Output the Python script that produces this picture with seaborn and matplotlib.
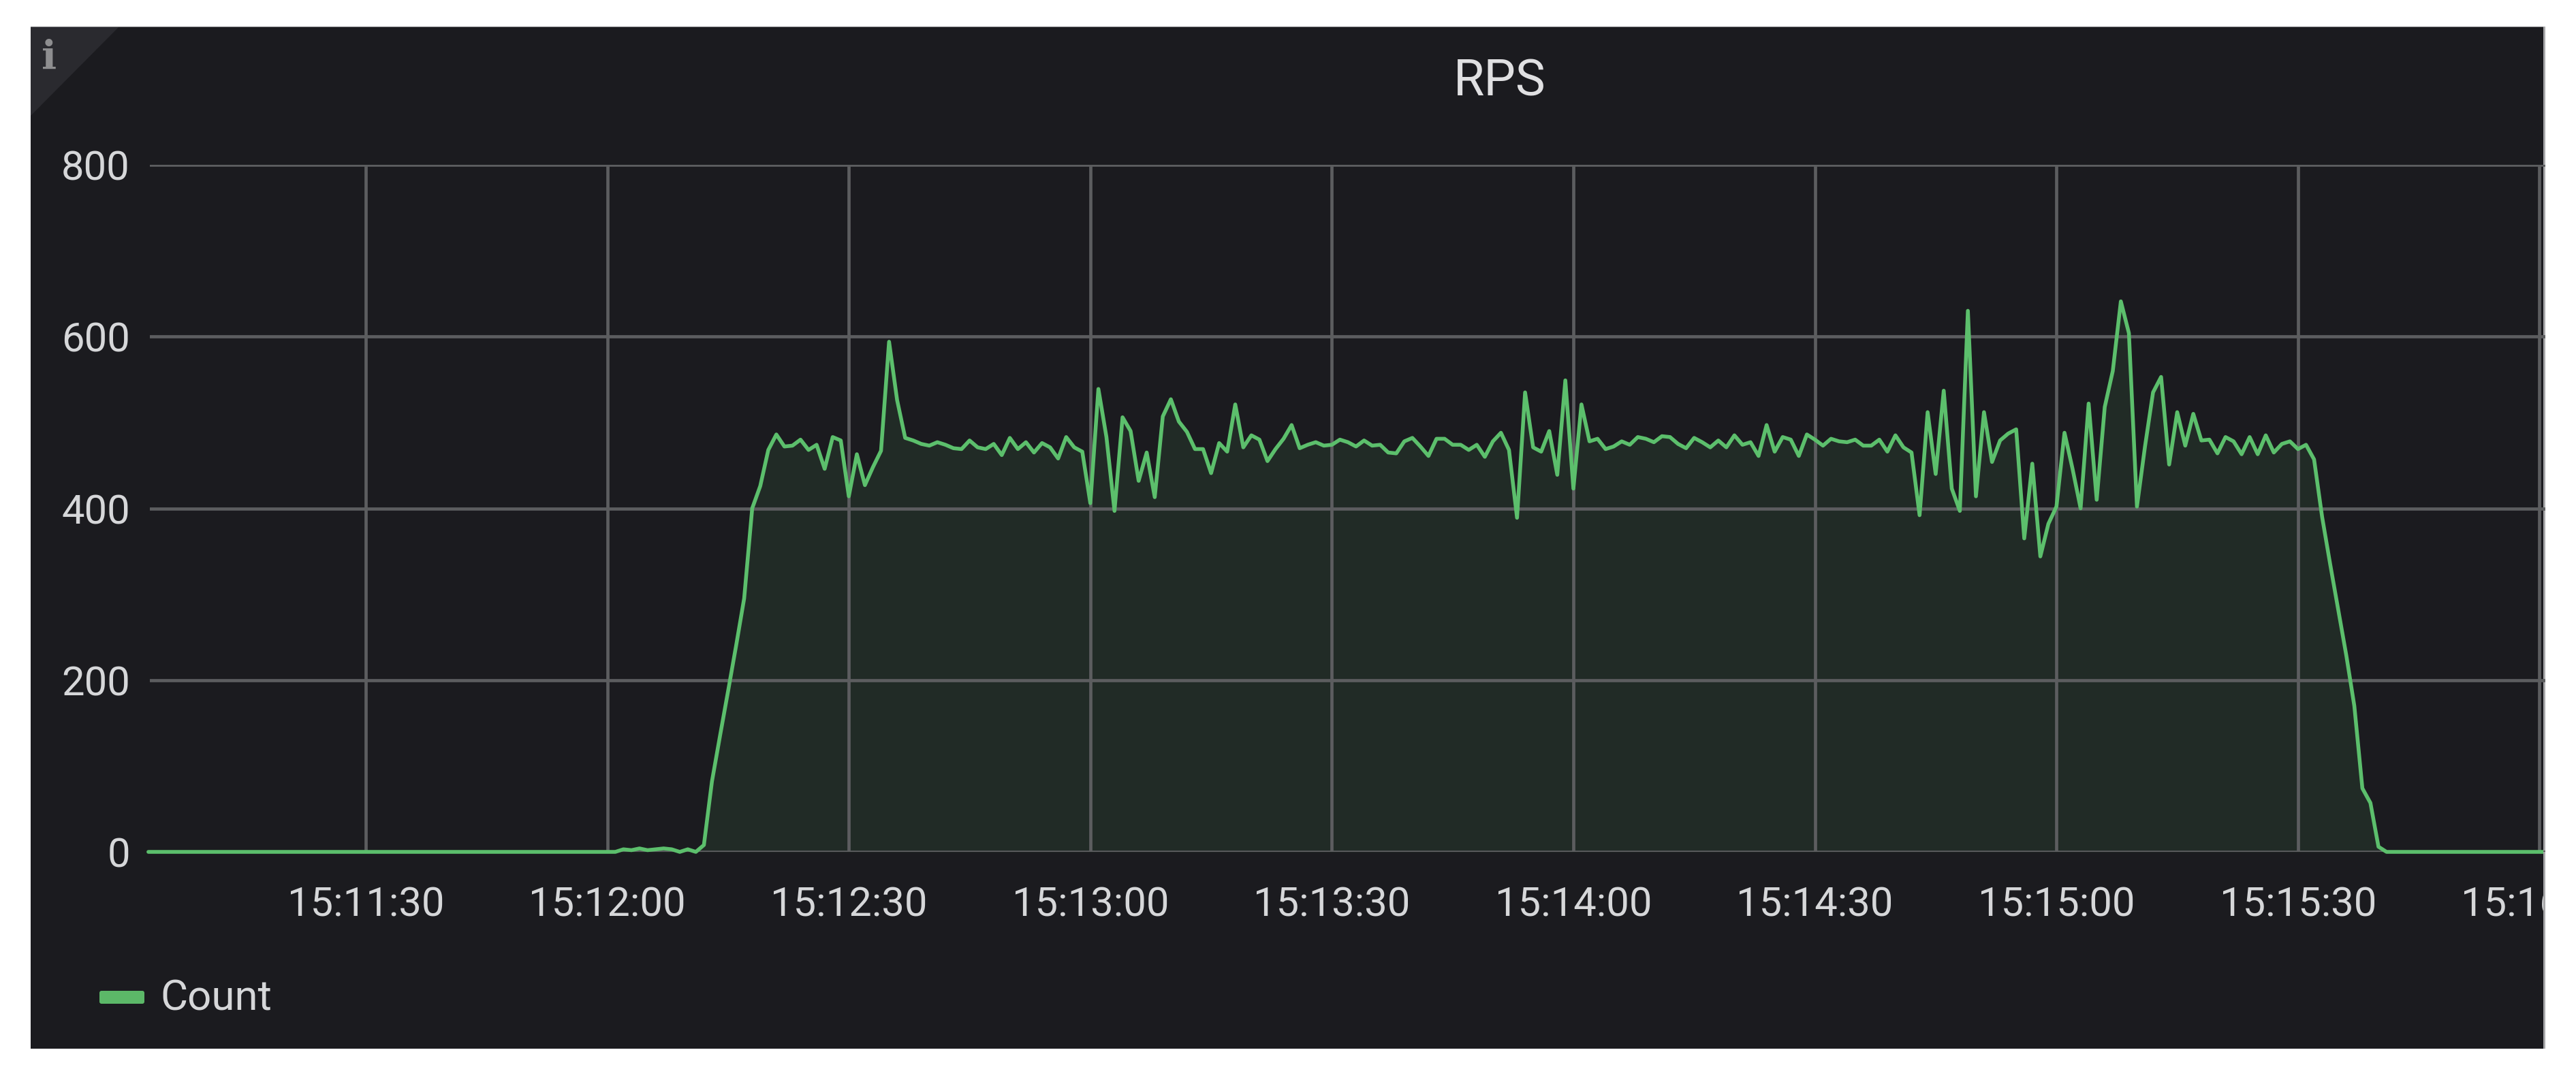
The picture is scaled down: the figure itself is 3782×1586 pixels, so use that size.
# RPS panel - dark dashboard style line chart
import matplotlib
matplotlib.use("Agg")
import matplotlib.pyplot as plt
from matplotlib.patches import Polygon, Rectangle, FancyBboxPatch
import numpy as np
import pandas as pd
import seaborn as sns

# ── data ─────────────────────────────────────────
title = "RPS"
legend_label = "Count"
y_ticks = [0, 200, 400, 600, 800]
tick_seconds = [30, 60, 90, 120, 150, 180, 210, 240, 270, 300]
tick_labels = ["15:11:30", "15:12:00", "15:12:30", "15:13:00", "15:13:30",
               "15:14:00", "15:14:30", "15:15:00", "15:15:30", "15:16:00"]

# one reading per second, first one at 15:11:03 (seconds after 15:11:00)
first_second = 3
zeros_before = [0] * 58
startup = [0, 3, 2, 4, 2, 3, 4, 3, 0, 3, 0, 8]
ramp_up = [82, 135, 187, 240, 295, 400, 426, 468, 486, 472, 473, 480, 468, 474, 446, 483, 479]
part_a = [414, 463, 427, 448, 467, 594, 526, 482, 479, 475, 473, 477, 474, 470, 469, 479,
          471, 469, 475, 462, 482, 469, 477, 465, 476, 471, 458, 483, 471, 466]
part_b = [406, 539, 483, 397, 506, 490, 432, 465, 413, 507, 527, 501, 489, 469, 469, 441,
          476, 466, 521, 471, 485, 480, 455, 469, 481, 497, 470, 474, 477, 473,
          474, 480, 477, 472, 479, 473, 474, 465, 464, 478, 482, 472, 461, 481, 481, 474,
          474, 468, 474, 460, 478, 488, 468, 389, 535, 471, 466, 490, 439, 549]
part_c = [423, 521, 478, 481, 469, 472, 478, 474, 483, 481, 477, 484, 483, 475, 470, 482,
          477, 471, 479, 471, 485, 474, 477, 461, 497, 466, 483, 480, 461, 486, 480, 473, 481]
part_d = [478, 477, 480, 473, 473, 480, 466, 485, 471, 465, 392, 512, 440, 537, 423, 397, 630,
          414, 512, 454, 479, 487, 492, 365, 452, 344, 382]
part_e = [402, 488, 446, 400, 522, 410, 518, 560, 641, 604, 402, 472, 535, 553, 451, 512,
          473, 510, 479, 480, 464, 483, 478, 463, 483, 463, 485, 465, 475, 478]
ramp_down = [469, 474, 457, 390, 335, 282, 229, 170, 74, 57, 6, 0]
zeros_after = [0] * 20

counts = zeros_before + startup + ramp_up + part_a + part_b + part_c + part_d + part_e + ramp_down + zeros_after
df = pd.DataFrame({"second": np.arange(len(counts)) + first_second, "count": counts})

# ── style ────────────────────────────────────────
W, H = 3782, 1586
PANEL = "#1b1b1f"
GREEN = "#5cbf6c"
TEXT = "#d6d7d9"
sns.set_theme(style="dark")
plt.rcParams["font.family"] = ["Roboto", "DejaVu Sans"]

fig = plt.figure(figsize=(W / 100, H / 100), dpi=100, facecolor="white")

# panel background spans almost the whole image, white margin around it
bg = fig.add_axes([45 / W, 1 - 1540 / H, (3737 - 45) / W, (1540 - 39) / H])
bg.set_facecolor(PANEL)
bg.set_xticks([])
bg.set_yticks([])
for s in bg.spines.values():
    s.set_visible(False)
bg.set_xlim(0, 3692)
bg.set_ylim(1501, 0)
# info corner
bg.add_patch(Polygon([(0, 0), (130, 0), (0, 131)], closed=True, color="#2a2a2f", lw=0))
bg.text(27, 46, "i", color="#8e8e90", fontsize=42, fontweight="bold", family="DejaVu Serif",
        ha="center", va="center")
# border lines on top and right edge
bg.add_patch(Rectangle((0, 0), 3692, 1.5, color="#77777a", lw=0))
bg.add_patch(Rectangle((3689, 0), 3, 1501, color="#a8a8aa", lw=0))

# plot area: 800 at y=242, 0 at y=1251
x_left, x_right = 220, 3737
y_top, y_bot = 242, 1251
ax = fig.add_axes([x_left / W, 1 - y_bot / H, (x_right - x_left) / W, (y_bot - y_top) / H])
ax.patch.set_alpha(0)
for s in ax.spines.values():
    s.set_visible(False)

px_per_sec = 354.6 / 30
sec_left = 30 - (537 - x_left) / px_per_sec
sec_right = sec_left + (x_right - x_left) / px_per_sec
ax.set_xlim(sec_left, sec_right)
ax.set_ylim(0, 800)

ax.fill_between(df["second"], df["count"], 0, color=GREEN, alpha=0.10, lw=0, zorder=1)
ax.grid(True, color="#5c5d5f", lw=3.4, zorder=2)
ax.set_axisbelow(False)
sns.lineplot(data=df, x="second", y="count", ax=ax, color=GREEN, lw=4.0, zorder=3,
             errorbar=None, solid_joinstyle="round")

# the line keeps its full width on the zero level, but stops at the panel edge
panel_clip = Rectangle((45, 0), 3689, H, transform=None)
ax.lines[-1].set_clip_path(panel_clip)

ax.set_xticks(tick_seconds)
ax.set_xticklabels(tick_labels)
ax.set_yticks(y_ticks)
ax.set_xlabel("")
ax.set_ylabel("")
ax.tick_params(axis="both", length=0, colors=TEXT, labelsize=43)
ax.tick_params(axis="x", pad=36)
ax.tick_params(axis="y", pad=21)
for lab in ax.get_xticklabels():
    lab.set_clip_on(True)
    lab.set_clip_path(Rectangle((45, 0), 3689, H, transform=None))

# title and legend, in panel pixels
bg.text(2202 - 45, 120 - 39, title, color="#e0e0e2", fontsize=53, ha="center", va="center")
bg.add_patch(FancyBboxPatch((146 - 45 + 3, 1455 - 39 + 3), 60, 13, boxstyle="round,pad=3", color="#5cb868", lw=0))
bg.text(235 - 45, 1466 - 39, legend_label, color=TEXT, fontsize=44.5, ha="left", va="center")

fig.savefig("out.png", dpi=100, facecolor="white")
